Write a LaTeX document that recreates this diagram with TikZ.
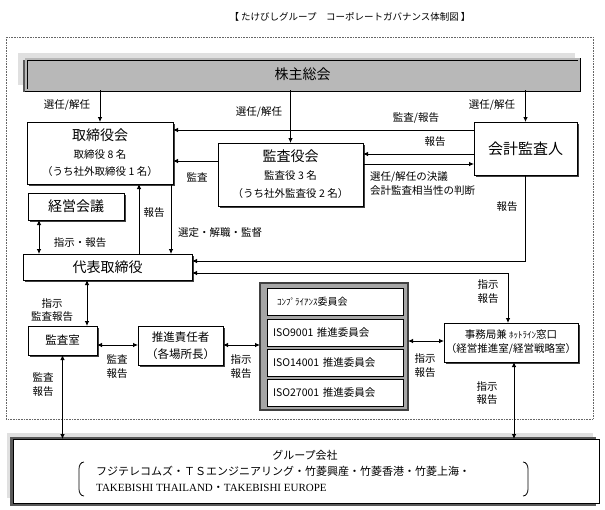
\documentclass[tikz,border=0pt]{standalone}
\usepackage{fontspec}
\setmainfont{Noto Sans CJK JP}
\newfontfamily\serif{Liberation Serif}
\usetikzlibrary{arrows.meta,shadows}
\tikzset{
  box/.style={draw, line width=0.8pt, fill=white, inner sep=0pt, outer sep=0pt,
    drop shadow={shadow xshift=1.6pt, shadow yshift=-1.6pt, fill=black!75, opacity=1}},
  ibox/.style={draw, line width=0.8pt, fill=white, inner sep=0pt, outer sep=0pt},
  lbl/.style={inner sep=0pt, font=\fontsize{10.5}{13.5}\selectfont, align=center},
  arr/.style={line width=0.8pt, -{Latex[length=5pt,width=4.5pt]}},
  darr/.style={line width=0.8pt, {Latex[length=5pt,width=4.5pt]}-{Latex[length=5pt,width=4.5pt]}},
  big/.style={font=\fontsize{14}{17.5}\selectfont},
  mid/.style={font=\fontsize{11.5}{17}\selectfont},
  small/.style={font=\fontsize{10.5}{14}\selectfont},
}
\begin{document}
\begin{tikzpicture}[x=1pt,y=-1pt]
\path[use as bounding box, fill=white] (0,0) rectangle (605,509);

% title
\node[inner sep=0pt, font=\fontsize{9.5}{12}\selectfont] (title) at (350,17) {【 たけびしグループ　コーポレートガバナンス体制図 】};

% dotted frame
\draw[black!60, densely dotted, line width=0.6pt] (6,37) rectangle (593,419);

% shareholders meeting
\fill[black!12] (18,53) rectangle (575,85);
\fill[black!65] (23,60) rectangle (577,92);
\node[draw, line width=0.8pt, double=black!28, double distance=1.4pt, fill=black!28,
  minimum width=553, minimum height=31, inner sep=0pt, outer sep=0pt, big] (kabu) at (302.5,74.5) {株主総会};

% boxes
\node[box, minimum width=146, minimum height=62, align=center, font=\fontsize{10.5}{17.5}\selectfont] (tori) at (100,153)
  {{\fontsize{14}{17.5}\selectfont 取締役会}\\取締役 8 名\\（うち社外取締役 1 名）};
\node[box, minimum width=145, minimum height=63, align=center, font=\fontsize{10.5}{18}\selectfont] (kansa) at (290.5,174.5)
  {{\fontsize{14}{18}\selectfont 監査役会}\\監査役 3 名\\（うち社外監査役 2 名）};
\node[box, minimum width=103, minimum height=53, font=\fontsize{15}{17}\selectfont] (kaikei) at (525.5,148.5) {会計監査人};
\node[box, minimum width=96, minimum height=27, big] (keiei) at (76,206.5) {経営会議};
\node[box, minimum width=169, minimum height=26, big] (daihyo) at (107.5,267) {代表取締役};
\node[box, minimum width=69, minimum height=29, mid] (shitsu) at (62.5,340.5) {監査室};
\node[box, minimum width=85, minimum height=39, align=center, font=\fontsize{11.5}{17}\selectfont] (suishin) at (180.5,345.5) {推進責任者\\（各場所長）};
\node[box, minimum width=134, minimum height=39, align=center, font=\fontsize{10.5}{14}\selectfont] (jimu) at (511,342.5) {事務局兼 {\fontsize{9}{14}\selectfont ﾎｯﾄﾗｲﾝ}窓口\\（経営推進室/経営戦略室）};

% committees
\node[draw=black!75, line width=1.3pt, fill=black!35, minimum width=148, minimum height=127, inner sep=0pt, outer sep=0pt] (comm) at (334,346.5) {};
\node[ibox, minimum width=136, minimum height=27, text width=124, align=left, font=\fontsize{10}{12}\selectfont] (c1) at (335,302) {\hspace{4pt}{\fontsize{9}{12}\selectfont ｺﾝﾌﾟﾗｲｱﾝｽ}委員会};
\node[ibox, minimum width=136, minimum height=27, text width=124, align=left, font=\fontsize{10.5}{12}\selectfont] (c2) at (335,332.5) {ISO9001 推進委員会};
\node[ibox, minimum width=136, minimum height=27, text width=124, align=left, font=\fontsize{10.5}{12}\selectfont] (c3) at (335,362.5) {ISO14001 推進委員会};
\node[ibox, minimum width=136, minimum height=27, text width=124, align=left, font=\fontsize{10.5}{12}\selectfont] (c4) at (335,392.5) {ISO27001 推進委員会};

% group companies
\fill[black!12] (7,433) rectangle (593,498);
\fill[black!65] (10,437) rectangle (596,506);
\node[draw, line width=0.8pt, fill=white, minimum width=586, minimum height=64, inner sep=0pt, outer sep=0pt] (group) at (306,471) {};
\node[lbl, font=\fontsize{11}{13}\selectfont] (gtitle) at (305,455) {グループ会社};
\node[inner sep=0pt, anchor=west, font=\fontsize{11}{13}\selectfont] (gl1) at (96,471) {フジテレコムズ・ＴＳエンジニアリング・竹菱興産・竹菱香港・竹菱上海・};
\node[inner sep=0pt, anchor=west, font=\fontsize{11}{13}\selectfont] (gl2) at (96,488) {{\serif TAKEBISHI THAILAND}・{\serif TAKEBISHI EUROPE}};
\draw[line width=0.8pt] (84,462) to[out=180,in=90] (79,469) -- (79,489) to[out=-90,in=180] (84,496);
\draw[line width=0.8pt] (523,462) to[out=0,in=90] (528,469) -- (528,489) to[out=-90,in=0] (523,496);

% connectors from shareholders meeting
\draw[arr] (kabu.south -| tori.north) -- (tori.north);
\draw[arr] (kabu.south -| kansa.north) -- (kansa.north);
\draw[arr] (kabu.south -| kaikei.north) -- (kaikei.north);
\node[lbl] (l1) at (67,105) {選任/解任};
\node[lbl] (l2) at (259,112) {選任/解任};
\node[lbl] (l3) at (492,105) {選任/解任};

% audit / report
\draw[arr] (kaikei.west |- 0,130) -- (tori.east |- 0,130);
\node[lbl] (l4) at (416,118) {監査/報告};
\draw[arr] (kansa.west |- 0,161) -- (tori.east |- 0,161);
\node[lbl] (l5) at (197,177) {監査};
\draw[arr] (kaikei.west |- 0,154) -- (kansa.east |- 0,154);
\node[lbl] (l6) at (435,142) {報告};
\draw[arr] (kansa.east |- 0,164) -- (kaikei.west |- 0,164);
\node[lbl, anchor=west, align=left] (l7) at (370,183.5) {選任/解任の決議\\会計監査相当性の判断};
\draw[arr] (kaikei.south) -- (kaikei.south |- 0,261) -- (daihyo.east |- 0,261);
\node[lbl] (l8) at (507,207) {報告};

% board <-> representative
\draw[arr] (tori.south -| 171,0) -- (daihyo.north -| 171,0);
\node[lbl] (l9) at (220,233) {選定・解職・監督};
\draw[arr] (daihyo.north -| 139,0) -- (tori.south -| 139,0);
\node[lbl] (l10) at (154,213) {報告};
\draw[darr] (keiei.south -| 39,0) -- (daihyo.north -| 39,0);
\node[lbl] (l11) at (80,243) {指示・報告};

% representative <-> secretariat
\draw[darr] (daihyo.east |- 0,273) -- (508,273) -- (jimu.north -| 508,0);
\node[lbl] (l12) at (488,291.5) {指示\\報告};

% representative <-> audit office
\draw[darr] (daihyo.south -| 87,0) -- (shitsu.north -| 87,0);
\node[lbl] (l13) at (52,310) {指示\\監査報告};

% horizontal chain
\draw[darr] (shitsu.east |- 0,345) -- (suishin.west |- 0,345);
\node[lbl] (l14) at (117,366.5) {監査\\報告};
\draw[darr] (suishin.east |- 0,345) -- (comm.west |- 0,345);
\node[lbl] (l15) at (241,366.5) {指示\\報告};
\draw[darr] (comm.east |- 0,341) -- (jimu.west |- 0,341);
\node[lbl] (l16) at (425,365.5) {指示\\報告};

% to group companies
\draw[darr] (shitsu.south) -- (shitsu.south |- group.north);
\node[lbl] (l17) at (43,384.5) {監査\\報告};
\draw[darr] (jimu.south -| 514,0) -- (group.north -| 514,0);
\node[lbl] (l18) at (487,393) {指示\\報告};
\end{tikzpicture}
\end{document}
